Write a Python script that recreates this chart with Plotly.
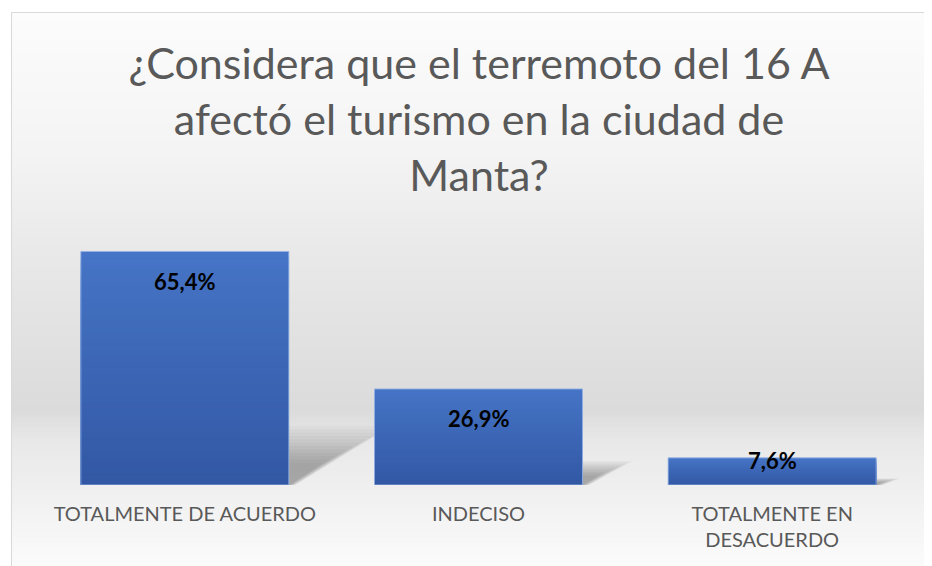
import plotly.graph_objects as go

categories = ["TOTALMENTE DE ACUERDO", "INDECISO", "TOTALMENTE EN<br>DESACUERDO"]
values = [65.4, 26.9, 7.6]
labels = ["65,4%", "26,9%", "7,6%"]
title_text = "¿Considera que el terremoto del 16 A<br>afectó el turismo en la ciudad de<br>Manta?"

# page body has an 8px margin; figure offset accordingly
OFF = 8
W, H = 932, 566
ML, MR, MT, MB = 30, 21, 227, 89
PW, PH = W - ML - MR, H - MT - MB
YMAX = 70
FONT = "Lato"

def px_x(sx):  # screenshot x -> paper
    return (sx - OFF - ML) / PW

def px_y(sy):  # screenshot y -> paper
    return (H - MB - (sy - OFF)) / PH

shapes = []
# background gradient
stops = [(12, 252), (150, 244), (250, 233), (410, 219), (440, 232), (566, 251)]
def gray_at(py):
    for (a, ga), (b, gb) in zip(stops, stops[1:]):
        if a <= py <= b:
            t = (py - a) / (b - a)
            return ga + (gb - ga) * t
    return stops[-1][1]

step = 3
py = 12
while py < 580:
    g = int(round(gray_at(py + step / 2)))
    shapes.append(dict(type="rect", xref="paper", yref="paper",
                       x0=px_x(11), x1=px_x(945), y0=px_y(py + step + 1.5), y1=px_y(py),
                       fillcolor=f"rgb({g},{g},{g})", line=dict(width=0), layer="below"))
    py += step
# border
shapes.append(dict(type="rect", xref="paper", yref="paper",
                   x0=px_x(11.5), x1=px_x(960), y0=px_y(590), y1=px_y(12.5),
                   line=dict(color="#d9d9d9", width=1), fillcolor="rgba(0,0,0,0)", layer="below"))

bargap = 1 - 208 / (PW / 3)
bw = 1 - bargap
px_per_unit_y = PH / YMAX
px_per_unit_x = PW / 3

# soft perspective shadows (layered translucent polygons to fake blur)
for i, v in enumerate(values):
    hu = 0.23 * v
    hpx = hu * px_per_unit_y
    su = 1.5 * hpx / px_per_unit_x
    xl, xr = i - bw / 2, i + bw / 2
    n = 12
    for k in range(n):
        f = 0.35 + 0.75 * (n - k) / n
        gx = (n - k) * 0.004
        path = (f"M {xl + 0.05} 0 L {xr + gx * 0.5} 0 "
                f"L {xr + su * f + gx} {hu * f} L {xl + su * f} {hu * f} Z")
        shapes.append(dict(type="path", xref="x", yref="y", path=path,
                           fillcolor="rgba(0,0,0,0.026)", line=dict(width=0), layer="below"))

# bar vertical gradient (stacked so there are no seams)
top_c = (70, 116, 198)
bot_c = (50, 88, 164)
nb = 40
for i, v in enumerate(values):
    xl, xr = i - bw / 2, i + bw / 2
    for k in reversed(range(nb)):
        t = (k + 0.5) / nb
        c = tuple(int(round(bot_c[j] + (top_c[j] - bot_c[j]) * t)) for j in range(3))
        shapes.append(dict(type="rect", xref="x", yref="y",
                           x0=xl, x1=xr, y0=0, y1=v * (k + 1) / nb,
                           fillcolor=f"rgb{c}", line=dict(width=0), layer="below"))

fig = go.Figure()
fig.add_trace(go.Bar(
    x=list(range(len(categories))), y=values,
    marker=dict(color="rgba(0,0,0,0)", line=dict(color="rgba(150,178,228,0.9)", width=1)),
    hoverinfo="skip",
))

annotations = []
for i, (v, lab) in enumerate(zip(values, labels)):
    bar_px = v * px_per_unit_y
    shift = -30 if bar_px > 60 else -3
    annotations.append(dict(x=i, y=v, xref="x", yref="y", text=f"<b>{lab}</b>",
                            showarrow=False, yanchor="middle", yshift=shift,
                            font=dict(family=FONT, size=22, color="#000000")))

fig.update_layout(
    width=W, height=H,
    margin=dict(l=ML, r=MR, t=MT, b=MB),
    paper_bgcolor="#ffffff",
    plot_bgcolor="rgba(0,0,0,0)",
    bargap=bargap,
    showlegend=False,
    title=dict(text=title_text, x=(479 - OFF) / W, xanchor="center", xref="container",
               y=1 - 71 / H, yanchor="top", yref="container",
               font=dict(family=FONT, size=43, color="#595959")),
    xaxis=dict(tickvals=list(range(len(categories))), ticktext=categories,
               range=[-0.5, 2.5], showgrid=False, zeroline=False, showline=False,
               ticks="", tickfont=dict(family=FONT, size=20, color="#595959"),
               ticklabelstandoff=15, fixedrange=True),
    yaxis=dict(range=[0, YMAX], visible=False, showgrid=False, zeroline=False, fixedrange=True),
    shapes=shapes,
    annotations=annotations,
)

fig.write_html("out.html")
